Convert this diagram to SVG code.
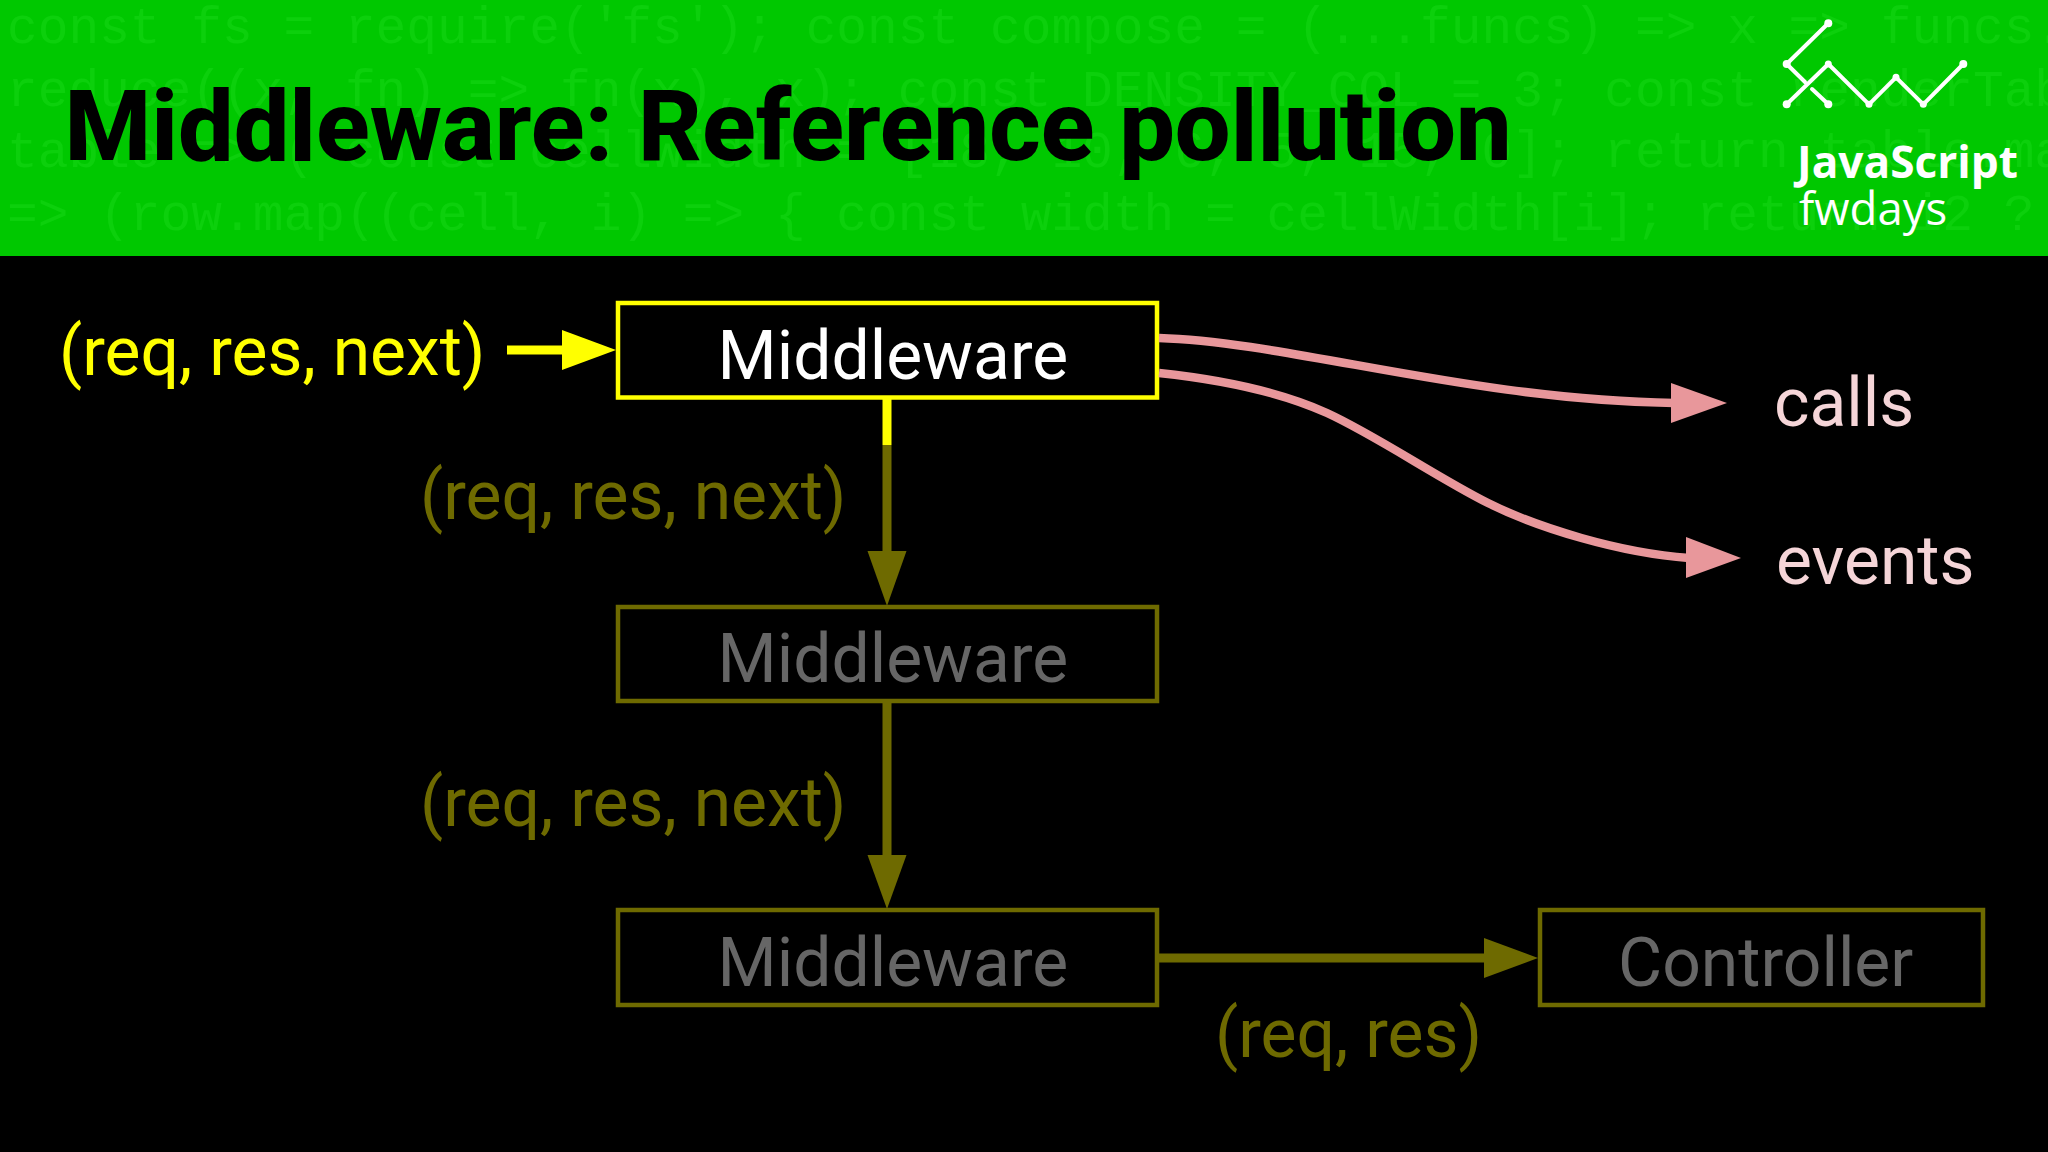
<svg xmlns="http://www.w3.org/2000/svg" width="2048" height="1152" viewBox="0 0 2048 1152">
<style>
.code{font-family:"Liberation Mono","DejaVu Sans Mono",monospace;font-size:51.2px;fill:#0cd00c}
.t{font-family:Roboto,"Liberation Sans",sans-serif;font-size:67.8px}
.box{fill:#000;stroke-width:4.5}
.y{stroke:#ffff00}.o{stroke:#6e6a00}
.ty{fill:#ffff00}.to{fill:#6e6a00}.tg{fill:#666666}.tw{fill:#fff}.tp{fill:#f5d5d8}
.conn{fill:none;stroke-width:9}
.pink{stroke:#e8979b;stroke-width:8.5}
.lg{fill:none;stroke:#fff;stroke-width:4;stroke-linecap:round;stroke-linejoin:round}
</style>
<rect width="2048" height="1152" fill="#000"/>
<rect id="header" width="2048" height="256" fill="#00c800"/>
<g id="code">
<text class="code" x="7" y="43">const fs = require('fs'); const compose = (...funcs) => x => funcs.</text>
<text class="code" x="7" y="106">reduce((x, fn) => fn(x), x); const DENSITY_COL = 3; const renderTable</text>
<text class="code" x="7" y="167">table => ( const cellWidth = [18, 10, 6, 5, 15, 0]; return table.ma</text>
<text class="code" x="7" y="230">=> (row.map((cell, i) => { const width = cellWidth[i]; return i2 ? c</text>
</g>
<text id="title" x="64.5" y="160" font-family="Roboto,'Liberation Sans',sans-serif" font-weight="800" font-size="99" fill="#000">Middleware: Reference pollution</text>
<g id="logo">
<path class="lg" d="M1828.3 23.3L1786.7 64L1805 82M1812 89L1828.3 104.3"/>
<path class="lg" d="M1786.7 104.3L1828.3 64L1869 104.3L1896 77.3L1923.3 104.3L1963.3 64"/>
<g fill="#fff"><circle cx="1828.3" cy="23.3" r="4"/><circle cx="1786.7" cy="64" r="4"/><circle cx="1828.3" cy="104.3" r="4"/><circle cx="1786.7" cy="104.3" r="4"/><circle cx="1828.3" cy="64" r="3.5"/><circle cx="1869" cy="104.3" r="3.5"/><circle cx="1896" cy="77.3" r="3.5"/><circle cx="1923.3" cy="104.3" r="3.5"/><circle cx="1963.3" cy="64" r="4"/></g>
<text x="1797" y="178" font-family="'Open Sans',sans-serif" font-weight="700" font-size="44.2" fill="#fff">JavaScript</text>
<text x="1799" y="225" font-family="'Open Sans',sans-serif" font-size="45.5" fill="#fff">fwdays</text>
</g>
<text id="label-in" class="t ty" x="59" y="375">(req, res, next)</text>
<text id="label-1" class="t to" x="420" y="518.5">(req, res, next)</text>
<text id="label-2" class="t to" x="420" y="826">(req, res, next)</text>
<text id="label-3" class="t to" x="1215" y="1057">(req, res)</text>
<g id="mw1"><rect class="box y" x="618" y="303" width="539" height="94.5"/><text class="t tw" x="717.5" y="378.5">Middleware</text></g>
<g id="mw2"><rect class="box o" x="618" y="607" width="539" height="94"/><text class="t tg" x="717.5" y="681.5">Middleware</text></g>
<g id="mw3"><rect class="box o" x="618" y="910" width="539" height="95"/><text class="t tg" x="717.5" y="985.5">Middleware</text></g>
<g id="controller"><rect class="box o" x="1540" y="910" width="443" height="95"/><text class="t tg" x="1618" y="985.5">Controller</text></g>
<g id="calls"><text class="t tp" x="1774" y="425.5">calls</text></g>
<g id="events"><text class="t tp" x="1776" y="583.5">events</text></g>
<g id="connectors">
<path class="conn y" d="M507 350H565"/>
<polygon points="562,330 616,350 562,370" fill="#ffff00"/>
<path class="conn y" d="M887 399V445"/>
<path class="conn o" d="M887 445V555"/>
<polygon points="867.5,551 906.5,551 887,606" fill="#6e6a00"/>
<path class="conn o" d="M887 703V858"/>
<polygon points="867.5,855 906.5,855 887,909" fill="#6e6a00"/>
<path class="conn o" d="M1159 958H1487"/>
<polygon points="1484,938 1538,958 1484,978" fill="#6e6a00"/>
<path class="conn pink" d="M1159 338C1290 342 1470 400 1674 403"/>
<polygon points="1671,383 1727,403 1671,423" fill="#e8979b"/>
<path class="conn pink" d="M1159 373C1225 380 1285 394 1327 413C1377 436 1438 478 1488 503C1538 528 1620 553 1689 558"/>
<polygon points="1686,537 1741,558 1686,578" fill="#e8979b"/>
</g>
</svg>
